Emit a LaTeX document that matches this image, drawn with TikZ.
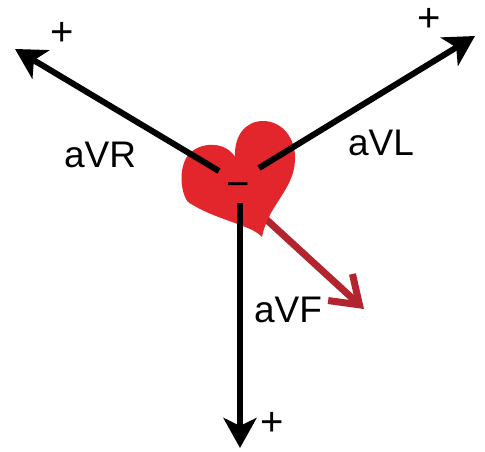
\documentclass[tikz,border=0pt]{standalone}
\usepackage{fontspec}
\setmainfont{Liberation Sans}
\usetikzlibrary{arrows.meta}
\definecolor{heartred}{HTML}{E2262B}
\definecolor{vecred}{HTML}{B3252E}
\tikzset{
  lead/.style={line width=6pt, -{Stealth[length=30pt, width=33pt, inset=8pt]}},
  vecarrow/.style={vecred, line width=7pt, line cap=round, line join=round,
    -{Straight Barb[length=26pt, width=36pt, line width=7pt]}},
  lbl/.style={font=\fontsize{37}{40}\selectfont, inner sep=0pt},
  sign/.style={font=\fontsize{40}{42}\selectfont, inner sep=0pt}
}
\begin{document}
\begin{tikzpicture}[x=1pt, y=-1pt]
\useasboundingbox (0,0) rectangle (485,452);

% end points of the three leads and the axis vector
\coordinate (rStart) at (219,171);
\coordinate (rEnd) at (15,49);
\coordinate (lStart) at (259,168);
\coordinate (lEnd) at (475,36);
\coordinate (fStart) at (240,203);
\coordinate (fEnd) at (240,448);
\coordinate (axStart) at (256,210);
\coordinate (axEnd) at (364,309);

% mean electrical axis, partly under the heart
\draw[vecarrow] (axStart) -- (axEnd);

% tilted heart
\fill[heartred] (235,157) .. controls (234,135) and (246,121) .. (263,121)
  .. controls (282,121) and (296,138) .. (295,160)
  .. controls (294,190) and (268,205) .. (262,237)
  .. controls (252,225) and (215,220) .. (188,202)
  .. controls (180,192) and (178,165) .. (190,153)
  .. controls (203,141) and (226,142) .. (235,157) -- cycle;

% augmented limb leads
\draw[lead] (rStart) -- (rEnd);
\draw[lead] (lStart) -- (lEnd);
\draw[lead] (fStart) -- (fEnd);

% labels and polarity signs
\node[lbl] (aVR) at (100,155) {aVR};
\node[lbl] (aVL) at (381,143) {aVL};
\node[lbl] (aVF) at (288,310) {aVF};
\node[sign] (pR) at (62,34) {+};
\node[sign] (pL) at (429,20) {+};
\node[sign] (pF) at (272,424) {+};
\node[sign] (neg) at (238,190) {−};
\end{tikzpicture}
\end{document}
